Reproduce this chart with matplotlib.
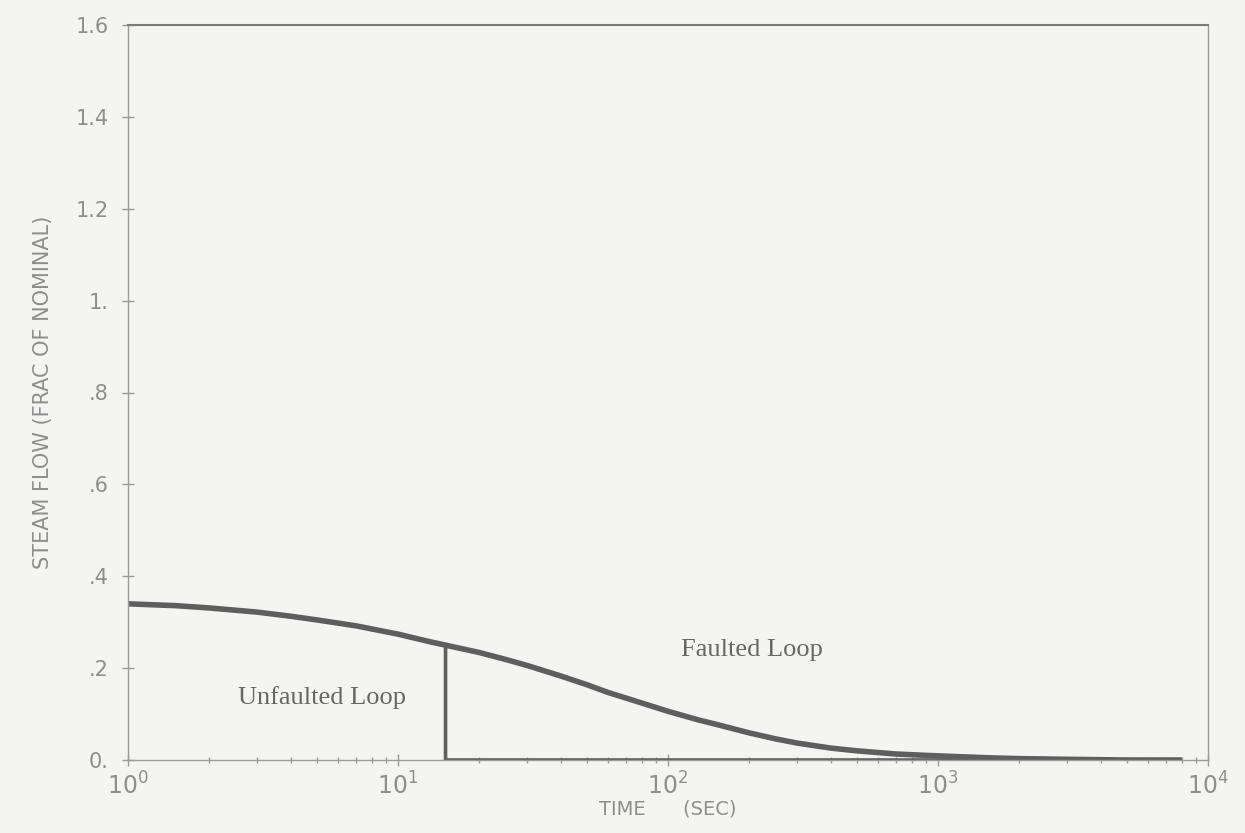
import matplotlib
matplotlib.use("Agg")
import matplotlib.pyplot as plt
import numpy as np

# Data
t_faulted = [1, 1.5, 2, 3, 4, 5, 7, 10, 13, 15, 20, 25, 30, 40, 50, 60, 80, 100, 130, 150, 200, 250, 300, 400, 500, 700, 1000, 1500, 2000, 3000, 5000, 8000]
faulted = [0.340, 0.336, 0.331, 0.322, 0.313, 0.305, 0.292, 0.274, 0.258, 0.250, 0.234, 0.219, 0.206, 0.183, 0.164, 0.147, 0.124, 0.106, 0.087, 0.078, 0.059, 0.046, 0.037, 0.026, 0.020, 0.013, 0.009, 0.005, 0.003, 0.0015, 0.0, 0.0]

t_unfaulted = [1, 1.5, 2, 3, 4, 5, 7, 10, 13, 15, 15, 100, 1000, 8000]
unfaulted = [0.340, 0.336, 0.331, 0.322, 0.313, 0.305, 0.292, 0.274, 0.258, 0.250, 0.0, 0.0, 0.0, 0.0]

ytick_vals = [0, 0.2, 0.4, 0.6, 0.8, 1.0, 1.2, 1.4, 1.6]
ytick_labels = ['0.', '.2', '.4', '.6', '.8', '1.', '1.2', '1.4', '1.6']
xtick_vals = [1, 10, 100, 1000, 10000]
xtick_labels = [r'$10^{0}$', r'$10^{1}$', r'$10^{2}$', r'$10^{3}$', r'$10^{4}$']

bg = '#f4f4f2'
line_c = '#5e5e5e'
axis_c = '#9a9a9a'
text_c = '#8e8e8e'

plt.rcParams['mathtext.fontset'] = 'dejavusans'
fig = plt.figure(figsize=(12.45, 8.33), dpi=100, facecolor=bg)
ax = fig.add_axes([128/1245, 1-760/833, (1208-128)/1245, (760-25)/833])
ax.set_facecolor(bg)

ax.plot(t_faulted, faulted, color=line_c, lw=4.0, solid_capstyle='butt', solid_joinstyle='round')
ax.plot(t_unfaulted, unfaulted, color=line_c, lw=2.6, solid_capstyle='butt')

ax.set_xscale('log')
ax.set_xlim(1, 10000)
ax.set_ylim(0, 1.6)

ax.set_yticks(ytick_vals)
ax.set_yticklabels(ytick_labels)
ax.set_xticks(xtick_vals)
ax.set_xticklabels(xtick_labels)

for s in ax.spines.values():
    s.set_color(axis_c)
    s.set_linewidth(1.0)
ax.spines['top'].set_color('#7a7a7a')
ax.spines['top'].set_linewidth(1.5)

ax.tick_params(axis='y', direction='inout', length=8, width=1, color=axis_c,
               labelsize=15, labelcolor=text_c, pad=10)
ax.tick_params(axis='x', which='major', direction='inout', length=8, width=1, color=axis_c,
               labelsize=17, labelcolor=text_c, pad=5)
ax.tick_params(axis='x', which='minor', direction='inout', length=5, width=1, color=axis_c)
ax.tick_params(top=False, right=False)

ax.set_xlabel('TIME      (SEC)', fontsize=14, color=text_c, labelpad=0)
ax.set_ylabel('STEAM FLOW (FRAC OF NOMINAL)', fontsize=15, color=text_c, labelpad=16)

ax.text(2.55, 0.135, 'Unfaulted Loop', family='Liberation Serif', fontsize=19,
        color='#666666', ha='left', va='center')
ax.text(112, 0.24, 'Faulted Loop', family='Liberation Serif', fontsize=19,
        color='#666666', ha='left', va='center')

fig.savefig('out.png', dpi=100, facecolor=bg)
